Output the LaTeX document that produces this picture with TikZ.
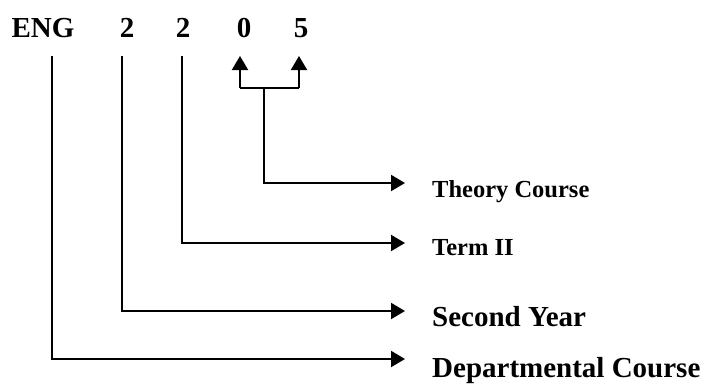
\documentclass[tikz,border=0pt]{standalone}
\usepackage{fontspec}
\setmainfont{Liberation Serif}
\usetikzlibrary{arrows.meta}
\begin{document}
\begin{tikzpicture}[x=1pt,y=-1pt,
  big/.style={font=\fontsize{29}{29}\selectfont\bfseries, inner sep=0pt, anchor=base},
  lab/.style={font=\fontsize{29}{29}\selectfont\bfseries, inner sep=0pt, anchor=base west},
  small/.style={font=\fontsize{24.5}{24.5}\selectfont\bfseries, inner sep=0pt, anchor=base west},
  conn/.style={line width=2pt},
  arr/.style={conn, -{Triangle[length=14pt,width=16pt]}}]
\useasboundingbox (0,0) rectangle (704,383);
% code characters
\node[big] (eng) at (43,37) {ENG};
\node[big] (d1) at (127,37) {2};
\node[big] (d2) at (183,37) {2};
\node[big] (d3) at (244,37) {0};
\node[big] (d4) at (301,37) {5};
% labels
\node[small] (theory) at (432,197) {Theory Course};
\node[small] (term) at (432,255) {Term II};
\node[lab] (year) at (432,326) {Second Year};
\node[lab] (dept) at (432,377) {Departmental Course};
% coordinates
\coordinate (s0) at (52,56);
\coordinate (s1) at (122,56);
\coordinate (s2) at (182,56);
\coordinate (a3) at (240,56);
\coordinate (a4) at (299,56);
\coordinate (b3) at (240,88);
\coordinate (b4) at (299,88);
\coordinate (m) at (264,88);
\coordinate (e1) at (405,183);
\coordinate (e2) at (405,243);
\coordinate (e3) at (405,311);
\coordinate (e4) at (405,359);
% connectors
\draw[conn] (b3) -- (b4);
\draw[arr] (b3) -- (a3);
\draw[arr] (b4) -- (a4);
\draw[arr] (m) |- (e1);
\draw[arr] (s2) |- (e2);
\draw[arr] (s1) |- (e3);
\draw[arr] (s0) |- (e4);
\end{tikzpicture}
\end{document}
